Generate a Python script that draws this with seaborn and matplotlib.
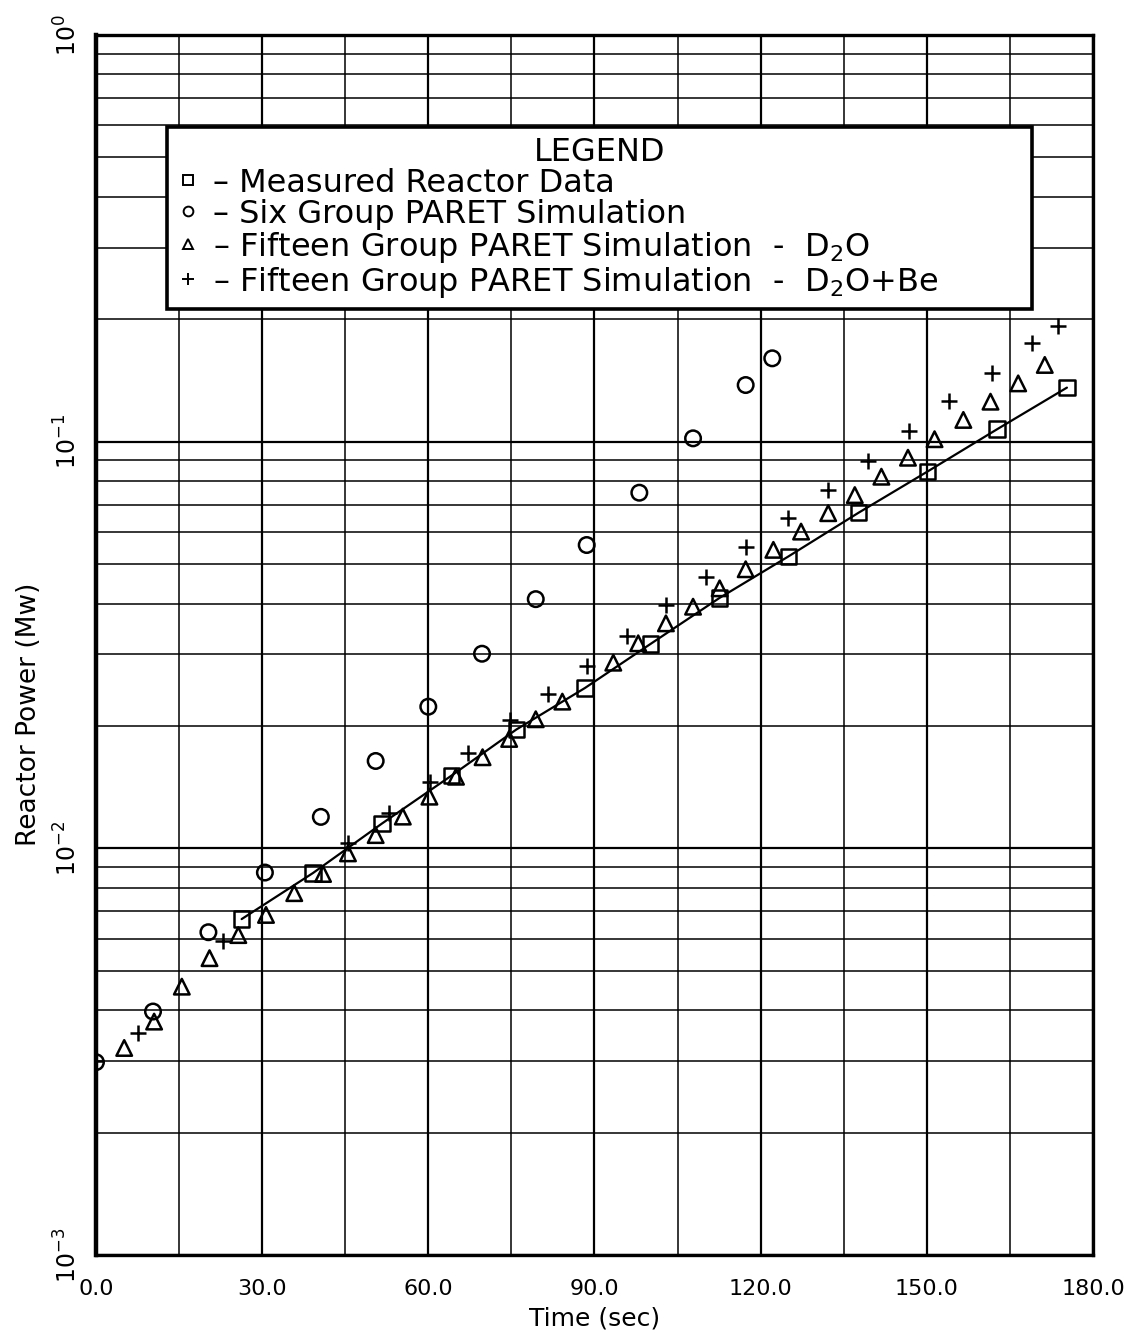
#!/usr/bin/python3
# -*- coding: utf-8 -*-

# -------------------------------------------------------------------->
# Reactor power transient: measured data vs. PARET simulations
# <--------------------------------------------------------------------

import numpy as np
import pandas as pd

import seaborn as sns

import matplotlib.pyplot as plt
from matplotlib.lines import Line2D
from matplotlib.ticker import MultipleLocator, LogLocator, NullFormatter

import warnings
warnings.filterwarnings("ignore")


# --------------------------------------------------------------------
# 数据
# --------------------------------------------------------------------

# Measured Reactor Data (squares, joined by a line)
measured_t = [26.3, 39.2, 51.6, 64.2, 75.9, 88.3, 100.1, 112.6, 125.0,
              137.7, 150.1, 162.7, 175.3]
measured_p = [0.0067, 0.0087, 0.0115, 0.0151, 0.0196, 0.0248, 0.0318,
              0.0413, 0.0522, 0.0669, 0.0844, 0.1073, 0.1358]

# Six Group PARET Simulation (circles)
six_t = [0.0, 10.3, 20.3, 30.5, 40.6, 50.5, 60.0, 69.7, 79.4, 88.6, 98.1,
         107.8, 117.3, 122.1]
six_p = [0.00298, 0.00397, 0.00622, 0.00872, 0.01195, 0.0164, 0.0223,
         0.0301, 0.0410, 0.0557, 0.0749, 0.1019, 0.1378, 0.1603]

# Fifteen Group PARET Simulation - D2O (triangles)
d2o_t = [5.1, 10.5, 15.5, 20.5, 25.7, 30.7, 35.8, 41.0, 45.5, 50.5, 55.4,
         60.2, 65.0, 69.8, 74.6, 79.4, 84.2, 93.4, 97.9, 102.9, 107.8,
         112.6, 117.3, 122.3, 127.3, 132.2, 137.0, 141.8, 146.6, 151.4,
         156.6, 161.5, 166.5, 171.3]
d2o_p = [0.00323, 0.00375, 0.00457, 0.00537, 0.00612, 0.00686, 0.00776,
         0.00865, 0.00972, 0.01078, 0.01197, 0.0134, 0.0150, 0.01675,
         0.01858, 0.02077, 0.02295, 0.02861, 0.03193, 0.03575, 0.03928,
         0.04359, 0.04856, 0.0542, 0.0601, 0.0667, 0.0739, 0.0820, 0.0913,
         0.1014, 0.1131, 0.1254, 0.1391, 0.1544]

# Fifteen Group PARET Simulation - D2O+Be (plus signs)
be_t = [0.0, 7.6, 23.0, 45.5, 52.9, 60.3, 67.2, 74.7, 81.6, 88.7, 95.8,
        103.0, 110.2, 117.4, 125.0, 132.2, 139.4, 146.8, 154.0, 161.7,
        169.0, 173.6]
be_p = [0.0030, 0.00351, 0.00593, 0.0103, 0.0122, 0.01459, 0.01713,
        0.0207, 0.02393, 0.0281, 0.03327, 0.0397, 0.04656, 0.05499,
        0.0648, 0.0761, 0.0897, 0.1062, 0.1259, 0.1478, 0.1745, 0.1925]

legend_labels = [
    "\u2013 Measured Reactor Data",
    "\u2013 Six Group PARET Simulation",
    "\u2013 Fifteen Group PARET Simulation  -  D$_2$O",
    "\u2013 Fifteen Group PARET Simulation  -  D$_2$O+Be",
]

x_ticks = [0, 30, 60, 90, 120, 150, 180]
x_tick_labels = ["0.0", "30.0", "60.0", "90.0", "120.0", "150.0", "180.0"]


# --------------------------------------------------------------------
# 绘图
# --------------------------------------------------------------------

def power_transient_plot(file_name):
    """Reactor power vs. time on a log scale, four series."""

    sns.set_style("white")
    plt.rcParams["font.family"] = ["DejaVu Sans"]
    #? 全部文字用纯黑
    plt.rcParams["text.color"] = "black"
    plt.rcParams["axes.labelcolor"] = "black"
    plt.rcParams["xtick.color"] = "black"
    plt.rcParams["ytick.color"] = "black"

    fig = plt.figure(figsize=(11.41, 13.40), dpi=100)
    ax = fig.add_axes([0.0841, 0.0634, 0.8738, 0.9105])

    ms = 125
    lw = 1.8

    # measured line + squares
    sns.lineplot(x=measured_t, y=measured_p, color="black", linewidth=1.6,
                 ax=ax, zorder=3)
    sns.scatterplot(x=measured_t, y=measured_p, marker="s", s=ms,
                    color="black", facecolor="none", edgecolor="black",
                    linewidth=lw, ax=ax, zorder=4)
    sns.scatterplot(x=six_t, y=six_p, marker="o", s=ms, color="black",
                    facecolor="none", edgecolor="black", linewidth=lw,
                    ax=ax, zorder=4)
    sns.scatterplot(x=d2o_t, y=d2o_p, marker="^", s=ms, color="black",
                    facecolor="none", edgecolor="black", linewidth=lw,
                    ax=ax, zorder=4)
    sns.scatterplot(x=be_t, y=be_p, marker="+", s=ms * 1.1, color="black",
                    linewidth=lw, ax=ax, zorder=4)

    # 坐标轴
    ax.set_yscale("log")
    ax.set_xlim(0, 180)
    ax.set_ylim(1e-3, 1e0)

    ax.set_xticks(x_ticks)
    ax.set_xticklabels(x_tick_labels)
    ax.xaxis.set_minor_locator(MultipleLocator(15))
    ax.yaxis.set_major_locator(LogLocator(base=10, numticks=10))
    ax.yaxis.set_minor_locator(LogLocator(base=10, subs=np.arange(2, 10), numticks=20))
    ax.yaxis.set_minor_formatter(NullFormatter())

    ax.grid(True, which="major", color="black", linewidth=1.6)
    ax.grid(True, which="minor", color="black", linewidth=1.1)

    ax.tick_params(axis="x", which="major", direction="out", length=9,
                   width=1.5, labelsize=16, pad=8)
    ax.tick_params(axis="x", which="minor", length=0)
    ax.tick_params(axis="y", which="both", direction="out", length=9,
                   width=1.3, labelsize=17, labelrotation=90, pad=1)
    for lab in ax.get_yticklabels():
        lab.set_va("center")

    for sp in ax.spines.values():
        sp.set_linewidth(2.4)
        sp.set_color("black")
    ax.spines["left"].set_linewidth(3.2)

    ax.set_xlabel("Time (sec)", fontsize=18, labelpad=6)
    ax.set_ylabel("Reactor Power (Mw)", fontsize=19)
    ax.yaxis.set_label_coords(-0.054, 0.443)

    # 图例
    handles = [
        Line2D([], [], linestyle="none", marker="s", markersize=7,
               markerfacecolor="none", markeredgecolor="black", markeredgewidth=1.4),
        Line2D([], [], linestyle="none", marker="o", markersize=7,
               markerfacecolor="none", markeredgecolor="black", markeredgewidth=1.4),
        Line2D([], [], linestyle="none", marker="^", markersize=7,
               markerfacecolor="none", markeredgecolor="black", markeredgewidth=1.4),
        Line2D([], [], linestyle="none", marker="+", markersize=9,
               markeredgecolor="black", markeredgewidth=1.4),
    ]
    leg = ax.legend(handles, legend_labels, title="LEGEND",
                    loc="upper left", bbox_to_anchor=(0.071, 0.768, 0.868, 0.1566),
                    mode="expand", fontsize=23, title_fontsize=23, frameon=True,
                    fancybox=False, framealpha=1, edgecolor="black",
                    handlelength=0.7, handletextpad=0.45, labelspacing=0.0,
                    borderpad=0.3, borderaxespad=0, labelcolor="black")
    leg.get_frame().set_linewidth(2.6)
    leg.get_title().set_color("black")
    leg.set_zorder(10)

    fig.savefig(file_name, dpi=100)


power_transient_plot("out.png")
